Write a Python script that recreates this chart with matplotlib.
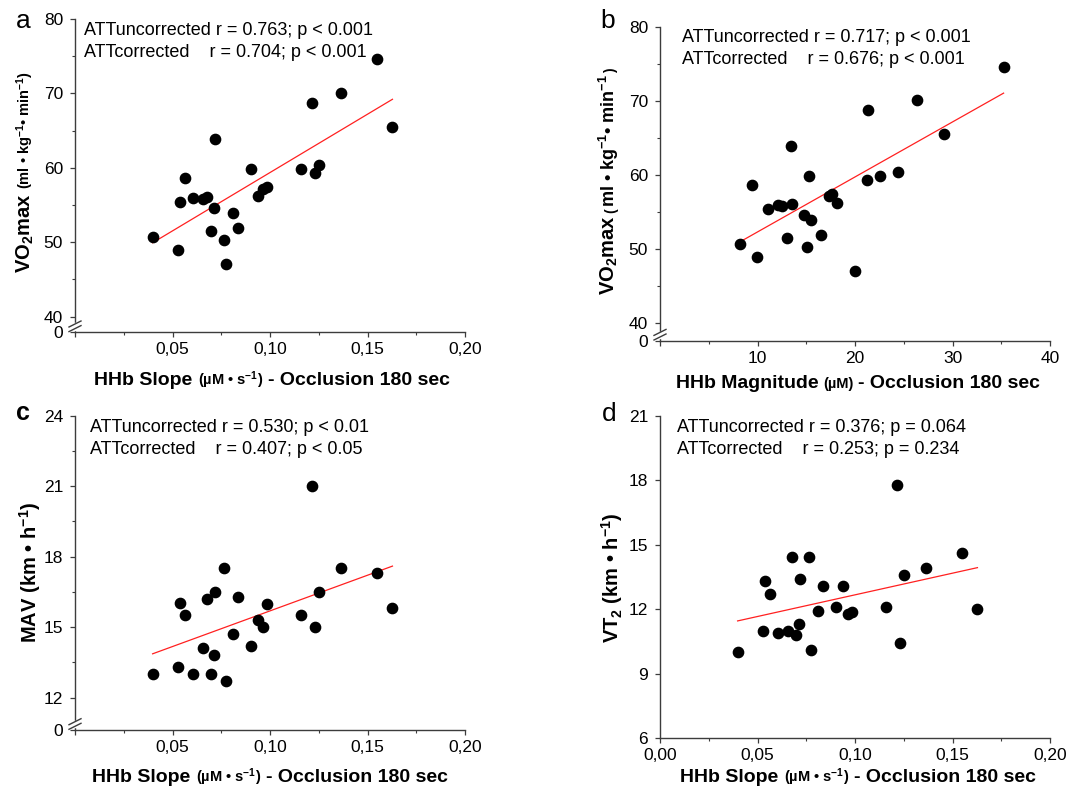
import numpy as np
import matplotlib
matplotlib.use("Agg")
import matplotlib.pyplot as plt
from matplotlib.transforms import IdentityTransform
from matplotlib.ticker import FixedLocator, FuncFormatter
from matplotlib.lines import Line2D

plt.rcParams['font.family'] = ['Liberation Sans', 'DejaVu Sans']
plt.rcParams['mathtext.fontset'] = 'custom'
plt.rcParams['mathtext.rm'] = 'Liberation Sans'
plt.rcParams['mathtext.it'] = 'Liberation Sans:italic'
plt.rcParams['mathtext.bf'] = 'Liberation Sans:bold'

# ---------------- data ----------------
hhb_slope = [0.0398, 0.0529, 0.0538, 0.0562, 0.0606, 0.0658, 0.0678, 0.0697, 0.0711,
             0.0716, 0.0765, 0.0772, 0.0810, 0.0835, 0.0902, 0.0936, 0.0965, 0.0985,
             0.1160, 0.1214, 0.1231, 0.1252, 0.1366, 0.1549, 0.1628]
hhb_magnitude = [8.25, 9.94, 11.10, 9.44, 12.09, 12.51, 13.50, 13.00, 14.77, 13.39,
                 15.08, 19.95, 15.51, 16.49, 15.30, 18.15, 17.34, 17.62, 22.59, 21.32,
                 21.18, 24.42, 26.33, 35.24, 29.11]
vo2max = [50.66, 48.96, 55.36, 58.68, 55.95, 55.81, 56.04, 51.56, 54.56, 63.92, 50.35,
          47.08, 53.98, 51.87, 59.84, 56.26, 57.20, 57.47, 59.84, 68.76, 59.35, 60.43,
          70.06, 74.62, 65.53]
mav = [12.99, 13.30, 16.01, 15.50, 12.99, 14.10, 16.20, 12.99, 13.80, 16.50, 17.50,
       12.70, 14.69, 16.30, 14.20, 15.30, 15.00, 16.00, 15.50, 21.00, 15.00, 16.50,
       17.50, 17.29, 15.80]
vt2 = [10.00, 11.00, 13.31, 12.70, 10.89, 11.00, 14.41, 10.79, 11.30, 13.40, 14.41,
       10.11, 11.91, 13.10, 12.10, 13.10, 11.80, 11.89, 12.10, 17.80, 10.41, 13.61,
       13.90, 14.61, 12.00]

stats_a = ["ATTuncorrected r = 0.763; p < 0.001", "ATTcorrected    r = 0.704; p < 0.001"]
stats_b = ["ATTuncorrected r = 0.717; p < 0.001", "ATTcorrected    r = 0.676; p < 0.001"]
stats_c = ["ATTuncorrected r = 0.530; p < 0.01", "ATTcorrected    r = 0.407; p < 0.05"]
stats_d = ["ATTuncorrected r = 0.376; p = 0.064", "ATTcorrected    r = 0.253; p = 0.234"]

slope_ticks = [0.0, 0.05, 0.10, 0.15, 0.20]
slope_minor = [0.025, 0.075, 0.125, 0.175]
mag_ticks = [0, 10, 20, 30, 40]
mag_minor = [5, 15, 25, 35]
vo2_ticks = [0, 40, 50, 60, 70, 80]
vo2_minor = [45, 55, 65, 75]
mav_ticks = [0, 12, 15, 18, 21, 24]
mav_minor = [13.5, 16.5, 19.5, 22.5]
vt2_ticks = [6, 9, 12, 15, 18, 21]

# ---------------- figure ----------------
W, H = 1069, 788
fig = plt.figure(figsize=(W / 100, H / 100), dpi=100)
AX_COL = '#3c3c3c'


def px_axes(left, right, top, bottom):
    return fig.add_axes([left / W, (H - bottom) / H, (right - left) / W, (bottom - top) / H])


def break_scale(ax, brk, gap):
    def fwd(y):
        y = np.asarray(y, float)
        return np.where(y >= brk, y, brk - (brk - y) * gap / brk)

    def inv(t):
        t = np.asarray(t, float)
        return np.where(t >= brk, t, brk - (brk - t) * brk / gap)
    ax.set_yscale('function', functions=(fwd, inv))


def style(ax):
    for s in ('top', 'right'):
        ax.spines[s].set_visible(False)
    for s in ('left', 'bottom'):
        ax.spines[s].set_color(AX_COL)
        ax.spines[s].set_linewidth(1.0)
    ax.tick_params(which='major', direction='out', length=3.8, width=0.9, color=AX_COL,
                   labelsize=12.5, pad=3.5)
    ax.tick_params(which='minor', direction='out', length=2.3, width=0.8, color=AX_COL)
    ax.tick_params(axis='y', which='major', pad=4.8)


def comma_fmt(show_zero):
    def f(v, pos):
        if abs(v) < 1e-9 and not show_zero:
            return ''
        return f"{v:.2f}".replace('.', ',')
    return FuncFormatter(f)


def int_fmt(hide_zero=False):
    def f(v, pos):
        if abs(v) < 1e-9 and hide_zero:
            return ''
        return f"{v:.0f}"
    return FuncFormatter(f)


def scatter_fit(ax, x, y):
    x = np.asarray(x)
    y = np.asarray(y)
    ax.plot(x, y, 'o', color='black', markersize=7.4, zorder=3, clip_on=False)
    k, b0 = np.polyfit(x, y, 1)
    xs = np.array([x.min(), x.max()])
    ax.plot(xs, k * xs + b0, color='#ff2020', lw=0.9, zorder=2)


def break_marks(left, bottom):
    cy = bottom - 6
    fig.add_artist(Line2D([left, left], [H - cy - 2.2, H - cy + 2.2], color='white', lw=2.5,
                          transform=IdentityTransform(), zorder=5))
    for dy in (-2.3, 2.3):
        fig.add_artist(Line2D([left - 6, left + 6], [H - cy + dy - 3, H - cy + dy + 3],
                              color=AX_COL, lw=1.0, transform=IdentityTransform(), zorder=6))


def chain_text(pieces, cx, cy, rotation=0):
    """pieces: (string, fontsize, gap_before_px). cx, cy in px from top-left.
    horizontal: cx centre, cy baseline; vertical: cx baseline, cy centre."""
    r = fig.canvas.get_renderer()
    items = []
    for s, size, g in pieces:
        t = fig.text(0, 0, s, transform=IdentityTransform(), fontsize=size, fontweight='bold',
                     ha='left', va='baseline', rotation=rotation, rotation_mode='anchor',
                     color='black')
        bb = t.get_window_extent(r)
        L = bb.width if rotation == 0 else bb.height
        items.append((t, L, g))
    total = sum(L + g for _, L, g in items)
    pos = -total / 2
    for t, L, g in items:
        pos += g
        if rotation == 0:
            t.set_position((cx + pos, H - cy))
        else:
            t.set_position((cx, H - cy + pos))
        pos += L


def stats_text(lines, x, y1, y2):
    fig.text(x, H - y1, lines[0], transform=IdentityTransform(), fontsize=13, va='baseline')
    fig.text(x, H - y2, lines[1], transform=IdentityTransform(), fontsize=13, va='baseline')


def panel_letter(s, x, y, weight='normal', size=19):
    fig.text(x, H - y, s, transform=IdentityTransform(), fontsize=size, fontweight=weight,
             ha='center', va='center')


slope_label = [("HHb Slope", 14, 0), (r"(µM • s$^{\mathbf{-1}}$)", 10.5, 5),
               ("- Occlusion 180 sec", 14, 5)]

# ---- panel a ----
la = dict(left=75, right=465, top=19, bottom=332.3)
axa = px_axes(**la)
break_scale(axa, 40, 2.12)
scatter_fit(axa, hhb_slope, vo2max)
axa.set_xlim(0, 0.20)
axa.set_ylim(0, 80)
axa.xaxis.set_major_locator(FixedLocator(slope_ticks))
axa.xaxis.set_minor_locator(FixedLocator(slope_minor))
axa.xaxis.set_major_formatter(comma_fmt(False))
axa.yaxis.set_major_locator(FixedLocator(vo2_ticks))
axa.yaxis.set_minor_locator(FixedLocator(vo2_minor))
axa.yaxis.set_major_formatter(int_fmt())
style(axa)
break_marks(la['left'], la['bottom'])
stats_text(stats_a, 84.3, 34.8, 57.2)
panel_letter('a', 23.5, 21)
chain_text(slope_label, 272, 385)
chain_text([("VO$_{\\mathbf{2}}$max", 14.5, 0),
            (r"(ml • kg$^{\mathbf{-1}}$• min$^{\mathbf{-1}}$)", 10.5, 4)], 30.5, 172, rotation=90)

# ---- panel b ----
lb = dict(left=660, right=1050, top=26.7, bottom=340.7)
axb = px_axes(**lb)
break_scale(axb, 40, 2.35)
scatter_fit(axb, hhb_magnitude, vo2max)
axb.set_xlim(0, 40)
axb.set_ylim(0, 80)
axb.xaxis.set_major_locator(FixedLocator(mag_ticks))
axb.xaxis.set_minor_locator(FixedLocator(mag_minor))
axb.xaxis.set_major_formatter(int_fmt(hide_zero=True))
axb.yaxis.set_major_locator(FixedLocator(vo2_ticks))
axb.yaxis.set_minor_locator(FixedLocator(vo2_minor))
axb.yaxis.set_major_formatter(int_fmt())
style(axb)
break_marks(lb['left'], lb['bottom'])
stats_text(stats_b, 681.7, 41.5, 63.8)
panel_letter('b', 608, 21)
chain_text([("HHb Magnitude", 14, 0), ("(µM)", 10.5, 5), ("- Occlusion 180 sec", 14, 5)],
           858, 388)
chain_text([("VO$_{\\mathbf{2}}$max", 14.5, 0), ("(", 10, 3),
            (r"ml • kg$^{\mathbf{-1}}$• min$^{\mathbf{-1}}$", 13, 1), (")", 10, 1)],
           615, 182, rotation=90)

# ---- panel c ----
lc = dict(left=75, right=465, top=415.7, bottom=730)
axc = px_axes(**lc)
break_scale(axc, 12, 1.374)
scatter_fit(axc, hhb_slope, mav)
axc.set_xlim(0, 0.20)
axc.set_ylim(0, 24)
axc.xaxis.set_major_locator(FixedLocator(slope_ticks))
axc.xaxis.set_minor_locator(FixedLocator(slope_minor))
axc.xaxis.set_major_formatter(comma_fmt(False))
axc.yaxis.set_major_locator(FixedLocator(mav_ticks))
axc.yaxis.set_minor_locator(FixedLocator(mav_minor))
axc.yaxis.set_major_formatter(int_fmt())
style(axc)
break_marks(lc['left'], lc['bottom'])
stats_text(stats_c, 89.5, 432.5, 454.5)
panel_letter('c', 23, 413, weight='bold', size=18)
chain_text(slope_label, 270, 782)
chain_text([(r"MAV (km • h$^{\mathbf{-1}}$)", 14.5, 0)], 36.5, 572.5, rotation=90)

# ---- panel d ----
ld = dict(left=660, right=1050, top=415.7, bottom=738.3)
axd = px_axes(**ld)
scatter_fit(axd, hhb_slope, vt2)
axd.set_xlim(0, 0.20)
axd.set_ylim(6, 21)
axd.xaxis.set_major_locator(FixedLocator(slope_ticks))
axd.xaxis.set_minor_locator(FixedLocator(slope_minor))
axd.xaxis.set_major_formatter(comma_fmt(True))
axd.yaxis.set_major_locator(FixedLocator(vt2_ticks))
axd.yaxis.set_major_formatter(int_fmt())
style(axd)
stats_text(stats_d, 677.3, 431.5, 453.5)
panel_letter('d', 609, 414)
chain_text(slope_label, 858, 782)
chain_text([(r"VT$_{\mathbf{2}}$ (km • h$^{\mathbf{-1}}$)", 14.5, 0)], 618.5, 578, rotation=90)

fig.savefig("out.png", dpi=100)
